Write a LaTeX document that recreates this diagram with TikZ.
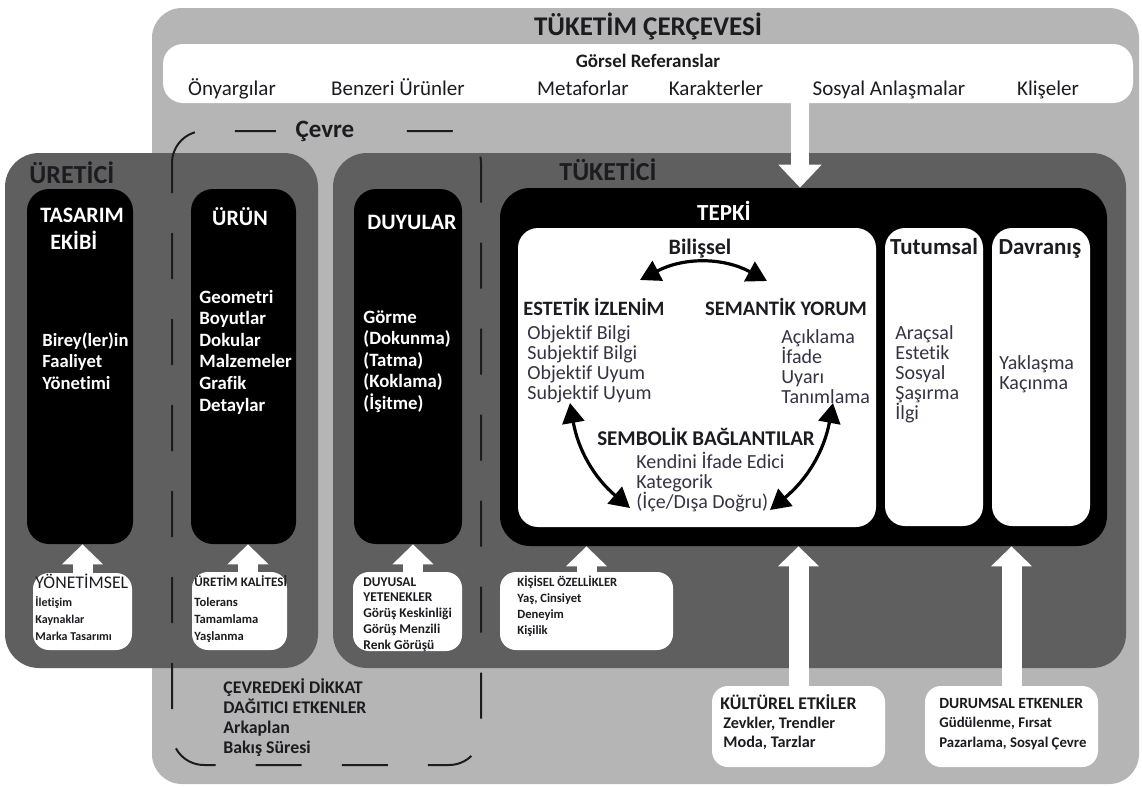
\documentclass[tikz,border=0pt]{standalone}
\usepackage{fontspec}
\setmainfont{Carlito}[Ligatures=NoCommon]
\usetikzlibrary{positioning, arrows.meta}

\definecolor{framegray}{RGB}{181,181,181}
\definecolor{panelgray}{RGB}{95,95,95}
\definecolor{inkdark}{RGB}{28,28,32}
\definecolor{itemink}{RGB}{52,52,66}
\newcommand{\fsz}[2]{\fontsize{#1}{#2}\selectfont}

\tikzset{
  panel/.style={fill=panelgray, rounded corners=17pt, inner sep=0pt},
  blackbox/.style={fill=black, rounded corners=11pt, inner sep=0pt},
  whitebox/.style={fill=white, rounded corners=10pt, inner sep=0pt},
  infobox/.style={fill=white, rounded corners=8pt, inner sep=0pt},
  fatarrow/.style={draw=white, line width=10pt, -{Triangle[length=10pt,width=20pt]}},
  bendarrow/.style={draw=black, line width=1.6pt, {Triangle[length=10pt,width=11pt]}-{Triangle[length=10pt,width=11pt]}},
  envline/.style={draw=inkdark, line width=1pt, dash pattern=on 23pt off 20pt, dash phase=8pt, rounded corners=16pt},
  txt/.style={inner sep=0pt, anchor=base west, align=left},
  ctxt/.style={inner sep=0pt, anchor=base}
}

\begin{document}
\begin{tikzpicture}[x=0.5pt, y=-0.5pt]
    \useasboundingbox (0,0) rectangle (1142,787);
    \fill[white] (0,0) rectangle (1142,787);

    % frames
    \node (frame) [fill=framegray, rounded corners=15pt, inner sep=0pt, minimum width=493.5pt, minimum height=388pt] at (645.5,396) {};
    \node (refbar) [whitebox, minimum width=485pt, minimum height=29.5pt] at (648,73.5) {};
    \node (uretici) [panel, minimum width=156.5pt, minimum height=257.5pt] at (161.5,410.5) {};
    \node (tuketici) [panel, minimum width=396.5pt, minimum height=257.5pt] at (729.5,410.5) {};

    % black columns
    \node (tasarim) [blackbox, minimum width=53pt, minimum height=177.5pt] at (80,366.5) {};
    \node (urun) [blackbox, minimum width=52.5pt, minimum height=177.5pt] at (243.5,366.5) {};
    \node (duyular) [blackbox, minimum width=54pt, minimum height=177.5pt] at (408,366.5) {};
    \node (tepki) [blackbox, rounded corners=15pt, minimum width=303.5pt, minimum height=179pt] at (803.5,367) {};

    % response boxes
    \node (bilissel) [whitebox, minimum width=179pt, minimum height=149.5pt] at (697,377.5) {};
    \node (tutumsal) [whitebox, minimum width=49pt, minimum height=149pt] at (934,377) {};
    \node (davranis) [whitebox, minimum width=49pt, minimum height=149pt] at (1041,377) {};

    % factor boxes
    \node (yonetim) [infobox, minimum width=49.5pt, minimum height=38.5pt] at (82.5,611.5) {};
    \node (kalite) [infobox, minimum width=47.5pt, minimum height=39pt] at (239.5,611) {};
    \node (yetenek) [infobox, minimum width=54.5pt, minimum height=39.5pt] at (407.5,611.5) {};
    \node (kisisel) [infobox, minimum width=86.5pt, minimum height=39pt] at (586.5,611) {};
    \node (kultur) [infobox, minimum width=86.5pt, minimum height=40.5pt] at (798.5,726.5) {};
    \node (durum) [infobox, minimum width=86.5pt, minimum height=40.5pt] at (1011.5,726.5) {};

    % environment border
    \draw[envline] (172,131) rectangle (481,765);
    \node (cevre) [fill=framegray, inner xsep=10pt, inner ysep=3pt, anchor=base, font=\fsz{12.5}{15}\bfseries, text=inkdark] at (325,137) {Çevre};

    % influence arrows
    \coordinate (refin) at (800,0);
    \coordinate (kaliteup) at (248,0);
    \coordinate (yetenekup) at (413,0);
    \draw[fatarrow, line width=9pt, -{Triangle[length=11.5pt,width=21pt]}] (refbar.south -| refin) -- (tepki.north -| refin);
    \draw[fatarrow] (yonetim.north) -- (yonetim.north |- tasarim.south);
    \draw[fatarrow] (kalite.north -| kaliteup) -- (urun.south -| kaliteup);
    \draw[fatarrow] (yetenek.north -| yetenekup) -- (duyular.south -| yetenekup);
    \draw[fatarrow] (kisisel.north) -- (kisisel.north |- tepki.south);
    \draw[fatarrow] (kultur.north) -- (kultur.north |- tepki.south);
    \draw[fatarrow] (durum.north) -- (durum.north |- tepki.south);

    % cognitive cycle
    \coordinate (bilL) at (640,280);
    \coordinate (bilR) at (767,281);
    \coordinate (estL) at (570,403);
    \coordinate (sembL) at (630,508);
    \coordinate (semR) at (833,403);
    \coordinate (sembR) at (770,510);
    \draw[bendarrow] (bilL) to[bend left=28] (bilR);
    \draw[bendarrow] (estL) to[bend right=20] (sembL);
    \draw[bendarrow] (semR) to[bend left=20] (sembR);

    % top labels
    \node (tuketimT) [ctxt, font=\fsz{13.5}{16}\bfseries, text=inkdark] at (648,35) {TÜKETİM ÇERÇEVESİ};
    \node (gorselT) [ctxt, font=\fsz{9.5}{11}\bfseries, text=inkdark] at (648,68) {Görsel Referanslar};
    \node (ref1) [ctxt, font=\fsz{10.5}{12}, text=inkdark] at (232,95) {Önyargılar};
    \node (ref2) [ctxt, font=\fsz{10.5}{12}, text=inkdark] at (398,95) {Benzeri Ürünler};
    \node (ref3) [ctxt, font=\fsz{10.5}{12}, text=inkdark] at (583,95) {Metaforlar};
    \node (ref4) [ctxt, font=\fsz{10.5}{12}, text=inkdark] at (716,95) {Karakterler};
    \node (ref5) [ctxt, font=\fsz{10.5}{12}, text=inkdark] at (889,95) {Sosyal Anlaşmalar};
    \node (ref6) [ctxt, font=\fsz{10.5}{12}, text=inkdark] at (1048,95) {Klişeler};

    % producer side (multi-line texts sit on their last baseline)
    \node (ureticiT) [txt, font=\fsz{13}{15}\bfseries, text=inkdark] at (29,183) {ÜRETİCİ};
    \node (tasarimT) [txt, font=\fsz{11}{13.5}\bfseries, text=white] at (40,249) {TASARIM\\\hspace*{5pt}EKİBİ};
    \node (bireyL) [txt, font=\fsz{9.3}{10.75}\bfseries, text=white] at (42,389) {Birey(ler)in\\Faaliyet\\Yönetimi};
    \node (urunT) [ctxt, font=\fsz{11}{13}\bfseries, text=white] at (240,225) {ÜRÜN};
    \node (urunL) [txt, font=\fsz{9.4}{10.8}\bfseries, text=white] at (199,411) {Geometri\\Boyutlar\\Dokular\\Malzemeler\\Grafik\\Detaylar};
    \node (duyularT) [ctxt, font=\fsz{11}{13}\bfseries, text=white] at (412,229) {DUYULAR};
    \node (duyularL) [txt, font=\fsz{9.4}{10.75}\bfseries, text=white] at (363,409) {Görme\\(Dokunma)\\(Tatma)\\(Koklama)\\(İşitme)};

    % consumer side
    \node (tuketiciT) [ctxt, font=\fsz{13}{15}\bfseries, text=inkdark] at (608,180) {TÜKETİCİ};
    \node (tepkiT) [ctxt, font=\fsz{11.5}{13}\bfseries, text=white] at (724,220) {TEPKİ};
    \node (bilisselT) [ctxt, font=\fsz{11}{13}\bfseries, text=inkdark] at (700,254) {Bilişsel};
    \node (estetikT) [ctxt, font=\fsz{10.2}{12}\bfseries, text=inkdark] at (594,315) {ESTETİK İZLENİM};
    \node (semantikT) [ctxt, font=\fsz{10.3}{12}\bfseries, text=inkdark] at (786,315) {SEMANTİK YORUM};
    \node (estetikL) [txt, font=\fsz{10}{10}, text=itemink] at (527,399.5) {Objektif Bilgi\\Subjektif Bilgi\\Objektif Uyum\\Subjektif Uyum};
    \node (semantikL) [txt, font=\fsz{10}{10}, text=itemink] at (781,403.5) {Açıklama\\İfade\\Uyarı\\Tanımlama};
    \node (sembolikT) [ctxt, font=\fsz{10.5}{12}\bfseries, text=inkdark] at (706,445) {SEMBOLİK BAĞLANTILAR};
    \node (sembolikL) [txt, font=\fsz{10}{10}, text=itemink] at (636,508.5) {Kendini İfade Edici\\Kategorik\\(İçe/Dışa Doğru)};
    \node (tutumsalT) [ctxt, font=\fsz{11.5}{13}\bfseries, text=inkdark] at (934,254) {Tutumsal};
    \node (tutumsalL) [txt, font=\fsz{10}{10}, text=itemink] at (895,419.5) {Araçsal\\Estetik\\Sosyal\\Şaşırma\\İlgi};
    \node (davranisT) [ctxt, font=\fsz{11.5}{13}\bfseries, text=inkdark] at (1040,254) {Davranış};
    \node (davranisL) [txt, font=\fsz{10}{10}, text=itemink] at (999,389.5) {Yaklaşma\\Kaçınma};

    % factor texts
    \node (yonetimT) [txt, font=\fsz{8.9}{10}, text=inkdark] at (35,588) {YÖNETİMSEL};
    \node (yonetimL) [txt, font=\fsz{6}{8.5}\bfseries, text=inkdark] at (35,640) {İletişim\\Kaynaklar\\Marka Tasarımı};
    \node (kaliteT) [txt, font=\fsz{6.5}{8}\bfseries, text=inkdark] at (194,586) {ÜRETİM KALİTESİ};
    \node (kaliteL) [txt, font=\fsz{6.3}{8.5}\bfseries, text=inkdark] at (194,640) {Tolerans\\Tamamlama\\Yaşlanma};
    \node (yetenekL) [txt, font=\fsz{6.7}{7.85}\bfseries, text=inkdark] at (363,649) {DUYUSAL\\YETENEKLER\\Görüş Keskinliği\\Görüş Menzili\\Renk Görüşü};
    \node (kisiselL) [txt, font=\fsz{6.3}{8}\bfseries, text=inkdark] at (517,634) {KİŞİSEL ÖZELLİKLER\\Yaş, Cinsiyet\\Deneyim\\Kişilik};
    \node (kulturT) [txt, font=\fsz{8.9}{10}\bfseries, text=inkdark] at (720,709) {KÜLTÜREL ETKİLER};
    \node (kulturL) [txt, font=\fsz{8.1}{9.5}\bfseries, text=inkdark] at (723,747) {Zevkler, Trendler\\Moda, Tarzlar};
    \node (durumT) [txt, font=\fsz{7.8}{9}\bfseries, text=inkdark] at (939,708) {DURUMSAL ETKENLER};
    \node (durumL) [txt, font=\fsz{7.4}{10}\bfseries, text=inkdark] at (939,747) {Güdülenme, Fırsat\\Pazarlama, Sosyal Çevre};
    \node (dikkatL) [txt, font=\fsz{8.9}{10}\bfseries, text=inkdark] at (223,753) {ÇEVREDEKİ DİKKAT\\DAĞITICI ETKENLER\\Arkaplan\\Bakış Süresi};
\end{tikzpicture}
\end{document}
